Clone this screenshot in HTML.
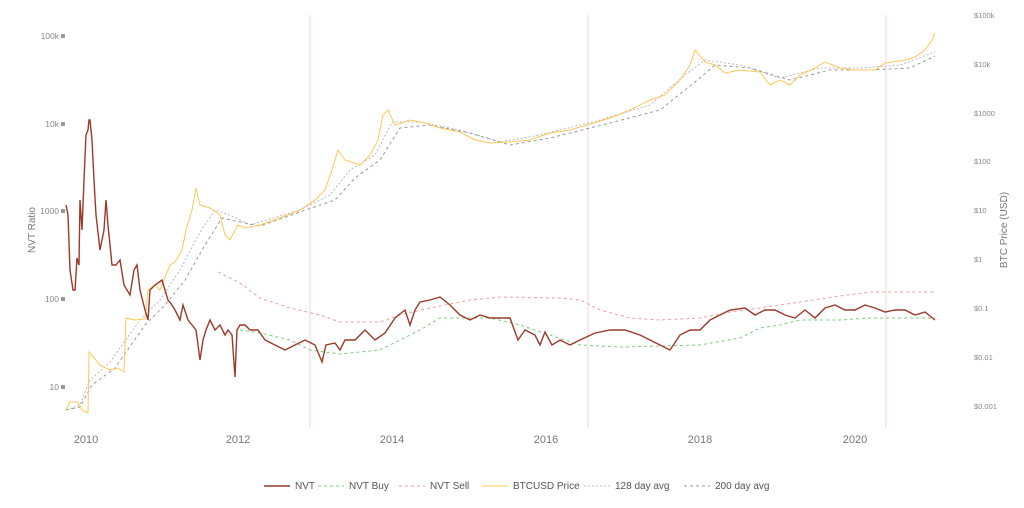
<!DOCTYPE html>
<html><head><meta charset="utf-8"><style>
html,body{margin:0;padding:0;background:#fff;}
svg{display:block;font-family:"Liberation Sans",sans-serif;}
</style></head><body>
<svg width="1024" height="508" viewBox="0 0 1024 508" xmlns="http://www.w3.org/2000/svg">
<g stroke="#f3d6da" stroke-width="1">
<line x1="310" y1="15" x2="310" y2="428"/><line x1="588" y1="15" x2="588" y2="428"/><line x1="886" y1="15" x2="886" y2="428"/>
</g>
<g font-size="8.5" fill="#888" text-anchor="end">
<text x="59" y="39">100k</text><text x="59" y="127">10k</text><text x="59" y="214">1000</text><text x="59" y="302">100</text><text x="59" y="390">10</text>
</g>
<g fill="#999"><rect x="61" y="34" width="4" height="4"/><rect x="61" y="122" width="4" height="4"/><rect x="61" y="209" width="4" height="4"/><rect x="61" y="297" width="4" height="4"/><rect x="61" y="385" width="4" height="4"/></g>
<text transform="translate(35,230) rotate(-90)" font-size="10" fill="#777" text-anchor="middle">NVT Ratio</text>
<g font-size="7.5" fill="#888">
<text x="974" y="18">$100k</text><text x="974" y="67">$10k</text><text x="974" y="116">$1000</text><text x="974" y="164">$100</text><text x="974" y="213">$10</text><text x="974" y="262">$1</text><text x="974" y="311">$0.1</text><text x="974" y="360">$0.01</text><text x="974" y="409">$0.001</text>
</g>
<text transform="translate(1007,230) rotate(-90)" font-size="10" fill="#777" text-anchor="middle">BTC Price (USD)</text>
<g font-size="11" fill="#777" text-anchor="middle">
<text x="86" y="443">2010</text><text x="238" y="443">2012</text><text x="392" y="443">2014</text><text x="546" y="443">2016</text><text x="700" y="443">2018</text><text x="855" y="443">2020</text>
</g>
<g fill="none" stroke-width="1">
<polyline stroke="#e8a0a0" stroke-dasharray="3,3" points="218,272 240,283 260,298 290,308 320,315 340,322 380,322 400,315 430,308 470,300 500,297 560,298 580,300 600,310 630,318 660,320 700,318 730,312 760,308 800,302 840,296 870,292 935,292"/>
<polyline stroke="#7ccc7c" stroke-dasharray="3,3" points="240,330 260,333 290,340 310,350 340,354 380,350 400,340 420,330 440,318 460,318 490,318 520,325 550,335 580,345 620,347 660,346 700,345 740,338 760,328 780,325 800,320 840,320 870,318 935,318"/>
<polyline stroke="#bbb" stroke-dasharray="2,2" points="66,410 80,405 90,380 110,362 140,320 160,300 180,270 200,232 215,210 230,215 250,225 300,210 330,195 350,170 375,155 392,122 420,122 460,130 500,142 540,135 600,120 650,105 685,75 705,60 740,65 780,78 820,68 860,68 900,65 935,52"/>
<polyline stroke="#999" stroke-dasharray="3,3" points="66,410 80,407 92,385 115,368 145,325 165,305 185,280 205,245 222,218 240,222 260,226 300,212 335,200 355,178 380,160 400,128 430,125 470,133 510,145 550,138 610,123 660,110 695,82 715,65 750,68 790,80 830,70 870,70 910,68 935,56"/>
<polyline stroke="#fcc857" points="66,410 70,402 78,402 82,410 88,413 89,352 100,365 110,370 118,368 124,372 126,318 135,320 145,319 148,290 155,285 160,290 170,265 175,262 182,250 186,230 192,210 196,188 200,205 210,208 220,215 225,235 230,240 238,225 245,228 260,225 280,218 300,210 315,200 325,190 332,170 338,150 345,160 360,165 370,155 378,140 383,115 388,110 395,125 410,120 425,123 440,128 460,132 475,140 490,143 510,142 530,140 550,133 570,130 590,124 610,118 630,110 650,100 665,95 680,80 690,65 695,50 705,62 715,65 725,73 740,70 760,72 770,85 780,80 790,85 800,75 815,68 825,62 840,68 855,70 875,70 885,63 905,60 915,57 925,50 932,40 935,33"/>
<polyline stroke="#9b3a2a" stroke-width="1.4" points="66,205 68,215 70,270 73,290 75,290 77,258 79,265 80,200 82,230 84,180 86,135 88,130 89,120 90,120 92,140 94,180 96,215 100,250 104,230 106,200 108,225 112,265 116,265 120,260 124,285 130,295 134,270 137,265 140,290 145,310 148,320 150,290 155,285 162,280 168,300 172,305 175,310 180,320 183,305 188,320 192,325 196,330 200,360 203,340 206,330 210,320 215,330 220,325 225,335 228,330 232,335 235,377 237,330 240,325 245,325 250,330 258,330 265,340 275,345 285,350 295,345 305,340 315,345 322,362 326,345 335,343 340,350 345,340 355,340 365,330 375,340 385,333 395,318 405,310 410,325 415,310 420,302 430,300 440,297 450,305 460,315 470,320 480,315 490,318 500,318 510,318 518,340 525,330 535,335 540,345 545,332 552,345 560,340 570,345 580,340 595,333 610,330 625,330 640,335 650,340 660,345 670,350 680,335 690,330 700,330 710,320 720,315 730,310 745,308 755,315 765,310 775,310 785,315 795,318 805,310 815,318 825,308 835,305 845,310 855,310 865,305 875,308 885,312 895,310 905,310 915,315 925,312 935,320"/>
</g>
<g font-size="10" fill="#555">
<line x1="264" y1="486" x2="290" y2="486" stroke="#9b3a2a" stroke-width="1.4"/><text x="295" y="489">NVT</text>
<line x1="318" y1="486" x2="344" y2="486" stroke="#7ccc7c" stroke-dasharray="3,3"/><text x="349" y="489">NVT Buy</text>
<line x1="399" y1="486" x2="425" y2="486" stroke="#e8a0a0" stroke-dasharray="3,3"/><text x="430" y="489">NVT Sell</text>
<line x1="482" y1="486" x2="508" y2="486" stroke="#fcc857"/><text x="513" y="489">BTCUSD Price</text>
<line x1="584" y1="486" x2="610" y2="486" stroke="#bbb" stroke-dasharray="2,2"/><text x="615" y="489">128 day avg</text>
<line x1="684" y1="486" x2="710" y2="486" stroke="#999" stroke-dasharray="3,3"/><text x="715" y="489">200 day avg</text>
</g>
</svg>
</body></html>
